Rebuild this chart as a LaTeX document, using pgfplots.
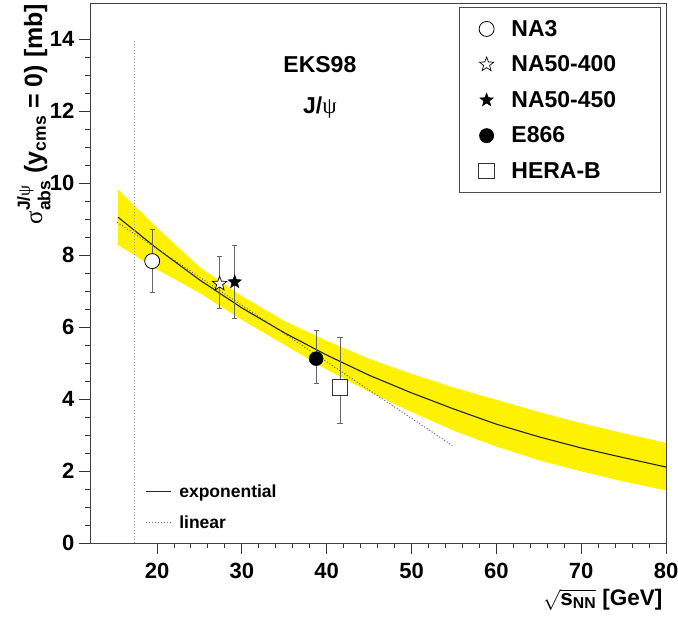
\documentclass[border=0pt]{standalone}
\usepackage{pgfplots}
\pgfplotsset{compat=1.18}
\usepackage{amsmath}
\usepackage{fontspec}
\setmainfont{Liberation Sans}
\newfontfamily\seriffont{Liberation Serif}

\pgfdeclareplotmark{fivestar}{%
  \pgfpathmoveto{\pgfpointpolar{90}{\pgfplotmarksize}}%
  \pgfpathlineto{\pgfpointpolar{126}{0.42\pgfplotmarksize}}%
  \pgfpathlineto{\pgfpointpolar{162}{\pgfplotmarksize}}%
  \pgfpathlineto{\pgfpointpolar{198}{0.42\pgfplotmarksize}}%
  \pgfpathlineto{\pgfpointpolar{234}{\pgfplotmarksize}}%
  \pgfpathlineto{\pgfpointpolar{270}{0.42\pgfplotmarksize}}%
  \pgfpathlineto{\pgfpointpolar{306}{\pgfplotmarksize}}%
  \pgfpathlineto{\pgfpointpolar{342}{0.42\pgfplotmarksize}}%
  \pgfpathlineto{\pgfpointpolar{18}{\pgfplotmarksize}}%
  \pgfpathlineto{\pgfpointpolar{54}{0.42\pgfplotmarksize}}%
  \pgfpathclose
  \pgfusepathqfillstroke
}

\pgfplotsset{
  errstyle/.style={error bars/.cd, y dir=both, y explicit,
    error bar style={black!60, line width=0.8pt},
    error mark options={black!60, rotate=90, mark size=2.6pt, line width=0.8pt}},
}

\begin{document}
\begin{tikzpicture}
\useasboundingbox (-90pt,-74pt) rectangle (588pt,543pt);

% ---- layer 1: band, curves, small legend
\begin{axis}[at={(0pt,0pt)}, anchor=south west, scale only axis,
  width=576pt, height=540pt, xmin=12.1, xmax=80, ymin=0, ymax=15,
  hide axis, clip=true,
  legend style={at={(axis description cs:0.0955,0.112)}, anchor=north west,
    draw=none, fill=none, font=\bfseries\fontsize{17.5}{17.5}\selectfont,
    row sep=13pt, inner sep=0pt, column sep=6pt},
  legend cell align=left,
  legend image code/.code={\draw[#1] (0pt,0pt) -- (25pt,0pt);},
]
\addplot[fill=yellow, draw=none, forget plot] coordinates {
  (15.4,9.82) (20,8.76) (25,7.67) (30,6.86) (35,6.17) (40,5.62) (45,5.12)
  (50,4.70) (55,4.32) (60,3.98) (65,3.64) (70,3.33) (75,3.05) (80,2.78)
  (80,1.46) (75,1.71) (70,1.99) (65,2.30) (60,2.68) (55,3.12) (50,3.64)
  (45,4.20) (40,4.82) (35,5.51) (30,6.20) (25,6.95) (20,7.60) (15.4,8.28)
} -- cycle;
\addplot[black!85, line width=1.1pt] coordinates {
  (15.4,9.05) (20,8.18) (25,7.31) (30,6.53) (35,5.84) (40,5.22) (45,4.66)
  (50,4.17) (55,3.72) (60,3.30) (65,2.95) (70,2.64) (75,2.37) (80,2.11)
};
\addlegendentry{exponential}
\addplot[black!60, dotted, line width=1pt] coordinates {(15.3,8.91) (54.8,2.71)};
\addlegendentry{linear}
\addplot[black!40, dotted, line width=1pt, forget plot] coordinates {(17.3,0) (17.3,14)};
\end{axis}

% ---- layer 2: frame, points, main legend
\begin{axis}[at={(0pt,0pt)}, anchor=south west, scale only axis,
  width=576pt, height=540pt, xmin=12.1, xmax=80, ymin=0, ymax=15,
  axis line style={black!75, line width=0.9pt},
  xtick pos=bottom, ytick pos=left, tick align=outside,
  major tick length=11pt, minor tick length=5pt,
  every tick/.style={black!80, line width=0.9pt},
  xtick={20,30,...,80}, ytick={0,2,...,14},
  minor x tick num=4, minor y tick num=3,
  ticklabel style={font=\bfseries\fontsize{22}{22}\selectfont},
  /pgf/number format/assume math mode=true,
  xticklabel style={yshift=-6pt},
  yticklabel style={xshift=-1pt},
  xlabel={$\sqrt{\text{s}_{\text{NN}}}$ [GeV]},
  xlabel style={at={(axis description cs:1,-0.115)}, anchor=base east,
    font=\bfseries\fontsize{22.5}{22.5}\selectfont},
  ylabel={$\text{\seriffont\mdseries σ}^{\text{J/\seriffont\mdseries ψ}}_{\text{abs}}$ (y$_{\text{cms}}$ = 0) [mb]},
  ylabel style={at={(axis description cs:-0.083,1.005)}, anchor=base east,
    font=\bfseries\fontsize{25}{25}\selectfont},
  legend style={at={(axis description cs:0.991,0.993)}, anchor=north east,
    draw=black!70, line width=0.8pt, fill=white,
    font=\bfseries\fontsize{23}{23}\selectfont,
    row sep=14pt, inner xsep=19pt, inner ysep=11pt,
    /tikz/every odd column/.append style={column sep=15pt}},
  legend cell align=left,
]
\addplot[only marks, mark=*, mark size=7.5pt,
  mark options={fill=white, draw=black, line width=0.8pt}, errstyle]
  table[y error plus=ep, y error minus=em] {
x y ep em
19.43 7.83 0.89 0.86
};
\addlegendentry{\makebox[128pt][l]{NA3}}
\addplot[only marks, mark=fivestar, mark size=7.5pt,
  mark options={fill=white, draw=black, line width=0.7pt}, errstyle]
  table[y error plus=ep, y error minus=em] {
x y ep em
27.38 7.20 0.76 0.69
};
\addlegendentry{\makebox[128pt][l]{NA50-400}}
\addplot[only marks, mark=fivestar, mark size=7pt,
  mark options={fill=black, draw=black, line width=0.5pt}, errstyle]
  table[y error plus=ep, y error minus=em] {
x y ep em
29.16 7.25 1.01 1.02
};
\addlegendentry{\makebox[128pt][l]{NA50-450}}
\addplot[only marks, mark=*, mark size=7pt,
  mark options={fill=black, draw=black}, errstyle]
  table[y error plus=ep, y error minus=em] {
x y ep em
38.76 5.12 0.79 0.69
};
\addlegendentry{\makebox[128pt][l]{E866}}
\addplot[only marks, mark=square*, mark size=7.8pt,
  mark options={fill=white, draw=black!80, line width=0.8pt}, errstyle]
  table[y error plus=ep, y error minus=em] {
x y ep em
41.58 4.33 1.37 1.01
};
\addlegendentry{\makebox[128pt][l]{HERA-B}}

\node[font=\bfseries\fontsize{23}{23}\selectfont] at (axis cs:39.2,13.28) {EKS98};
\node[font=\bfseries\fontsize{23}{23}\selectfont] at (axis cs:39.2,12.1) {J/{\seriffont\mdseries ψ}};
\end{axis}
\end{tikzpicture}
\end{document}
